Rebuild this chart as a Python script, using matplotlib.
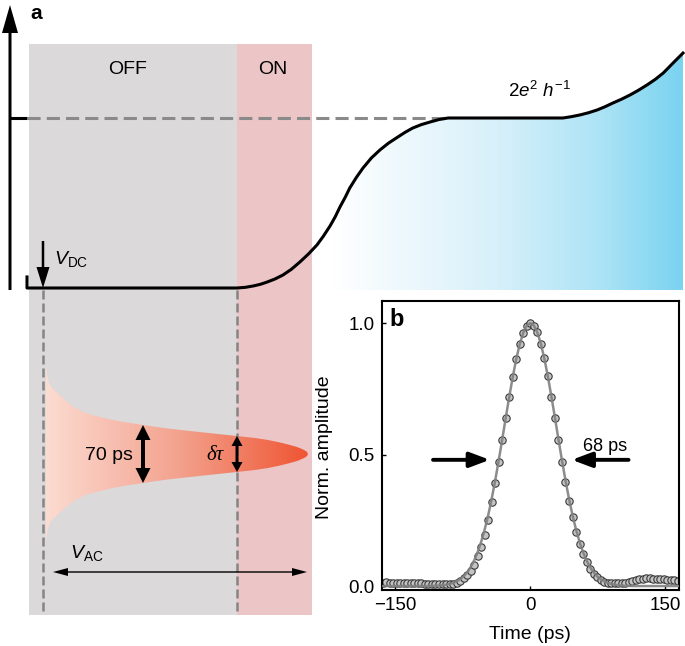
import numpy as np
import matplotlib
matplotlib.use("Agg")
import matplotlib.pyplot as plt
from matplotlib.patches import Rectangle, Polygon
from matplotlib.colors import LinearSegmentedColormap

plt.rcParams['font.family'] = ['Liberation Sans', 'DejaVu Sans']
plt.rcParams['mathtext.fontset'] = 'custom'
plt.rcParams['mathtext.rm'] = 'Liberation Sans'
plt.rcParams['mathtext.it'] = 'Liberation Sans:italic'
plt.rcParams['mathtext.bf'] = 'Liberation Sans:bold'

# ---------------- data ----------------
# panel a: schematic conductance curve (gate voltage a.u. 0..1, G in units of 2e^2/h)
gate_v = [0.0, 0.0, 0.320, 0.333, 0.345, 0.356, 0.366, 0.378, 0.390, 0.403, 0.416, 0.429,
          0.442, 0.452, 0.462, 0.470, 0.477, 0.485, 0.492, 0.502, 0.512, 0.525, 0.538,
          0.551, 0.564, 0.576, 0.588, 0.601, 0.614, 0.628, 0.642, 0.817, 0.830, 0.843,
          0.856, 0.869, 0.881, 0.893, 0.906, 0.919, 0.932, 0.945, 0.958, 0.970, 0.985, 1.0]
conductance = [0.065, 0.0, 0.0, 0.004, 0.012, 0.022, 0.035, 0.053, 0.076, 0.110, 0.153, 0.200,
               0.253, 0.306, 0.365, 0.420, 0.476, 0.533, 0.588, 0.650, 0.705, 0.765, 0.812,
               0.852, 0.885, 0.915, 0.941, 0.961, 0.976, 0.991, 1.0, 1.0, 1.008, 1.018,
               1.031, 1.047, 1.066, 1.088, 1.110, 1.135, 1.163, 1.194, 1.228, 1.265, 1.324, 1.382]
plateau_level = 1.0

# panel a: schematic pulse envelope (position px, half-width px)
pulse_pos = [46, 46.5, 47.5, 49, 51, 54, 57, 61, 65, 73, 85, 100, 115, 130, 143, 165, 190,
             215, 237, 255, 268, 280, 290, 297, 302, 305, 307, 308]
pulse_halfwidth = [90, 84, 77, 71, 67, 64, 61.5, 57.5, 54, 47.5, 41, 37, 33.5, 31, 29, 25.8,
                   23, 20.3, 18, 16, 14, 11.5, 9, 7, 5, 3.5, 2, 0]

# panel b: measured pulse (time in ps, normalized amplitude) and Gaussian fit
time_ps = [-163.8, -159.9, -156.0, -152.1, -148.2, -144.3, -140.4, -136.5, -132.6, -128.7,
           -124.8, -120.9, -117.0, -113.1, -109.2, -105.3, -101.4, -97.5, -93.6, -89.7,
           -85.8, -81.9, -78.0, -74.1, -70.2, -66.3, -62.4, -58.5, -54.6, -50.7,
           -46.8, -42.9, -39.0, -35.1, -31.2, -27.3, -23.4, -19.5, -15.6, -11.7,
           -7.8, -3.9, 0.0, 3.9, 7.8, 11.7, 15.6, 19.5, 23.4, 27.3,
           31.2, 35.1, 39.0, 42.9, 46.8, 50.7, 54.6, 58.5, 62.4, 66.3,
           70.2, 74.1, 78.0, 81.9, 85.8, 89.7, 93.6, 97.5, 101.4, 105.3,
           109.2, 113.1, 117.0, 120.9, 124.8, 128.7, 132.6, 136.5, 140.4, 144.3,
           148.2, 152.1, 156.0, 159.9, 163.8]
amp_measured = [0.013, 0.014, 0.013, 0.012, 0.013, 0.012, 0.012, 0.011, 0.012, 0.011,
                0.010, 0.010, 0.009, 0.009, 0.008, 0.008, 0.007, 0.007, 0.006, 0.007,
                0.008, 0.012, 0.020, 0.031, 0.041, 0.056, 0.081, 0.113, 0.148, 0.195,
                0.252, 0.318, 0.390, 0.470, 0.555, 0.640, 0.720, 0.795, 0.862, 0.920,
                0.962, 0.988, 1.000, 0.990, 0.965, 0.922, 0.866, 0.797, 0.720, 0.638,
                0.555, 0.473, 0.396, 0.325, 0.262, 0.207, 0.160, 0.121, 0.090, 0.066,
                0.047, 0.034, 0.024, 0.017, 0.013, 0.011, 0.010, 0.010, 0.011, 0.012,
                0.014, 0.018, 0.022, 0.026, 0.028, 0.029, 0.029, 0.028, 0.027, 0.026,
                0.025, 0.024, 0.023, 0.022, 0.021]
amp_fit = [0.0, 0.0, 0.0, 0.0, 0.0, 0.0, 0.0, 0.0, 0.0, 0.0,
           0.0, 0.0, 0.0, 0.0, 0.001, 0.001, 0.002, 0.003, 0.005, 0.008,
           0.012, 0.018, 0.026, 0.037, 0.052, 0.072, 0.097, 0.129, 0.168, 0.215,
           0.269, 0.332, 0.402, 0.478, 0.558, 0.640, 0.720, 0.796, 0.864, 0.921,
           0.964, 0.991, 1.000, 0.991, 0.964, 0.921, 0.864, 0.796, 0.720, 0.640,
           0.558, 0.478, 0.402, 0.332, 0.269, 0.215, 0.168, 0.129, 0.097, 0.072,
           0.052, 0.037, 0.026, 0.018, 0.012, 0.008, 0.005, 0.003, 0.002, 0.001,
           0.001, 0.0, 0.0, 0.0, 0.0, 0.0, 0.0, 0.0, 0.0, 0.0,
           0.0, 0.0, 0.0, 0.0, 0.0]
x_ticks = [-150, 0, 150]
y_ticks = [0.0, 0.5, 1.0]
y_ticklabels = ['0.0', '0.5', '1.0']

# ---------------- figure ----------------
W, H = 685, 646
fig = plt.figure(figsize=(W / 100, H / 100), dpi=100)
ax = fig.add_axes([0, 0, 1, 1], zorder=0)
ax.set_xlim(0, W)
ax.set_ylim(H, 0)
ax.axis('off')

off_col = '#dbd9da'
on_col = '#ecc5c6'
ax.add_patch(Rectangle((29, 44), 208, 571, facecolor=off_col, edgecolor='none', zorder=0))
ax.add_patch(Rectangle((237, 44), 75, 571, facecolor=on_col, edgecolor='none', zorder=0))

ax.text(128, 70, 'OFF', ha='center', va='center', fontsize=14)
ax.text(273, 70, 'ON', ha='center', va='center', fontsize=14)
ax.text(30, 19, 'a', ha='left', va='baseline', fontsize=15, fontweight='bold')

# vertical axis arrow and tick
ax.arrow(10, 290, 0, -285, width=3, head_width=16, head_length=28,
         length_includes_head=True, color='k', lw=0, zorder=3)
ax.plot([10, 27], [118, 118], color='k', lw=2.2, solid_capstyle='butt', zorder=3)

# vertical dashed guides
for xv in (43, 237):
    ax.plot([xv, xv], [290, 615], color='#858585', lw=1.8, dashes=(3.6, 1.6), zorder=2)

# V_DC arrow
ax.arrow(43, 241, 0, 47, width=2.5, head_width=13, head_length=21,
         length_includes_head=True, color='k', lw=0, zorder=3)
ax.text(54, 259, r'$V_{\rm DC}$', ha='left', va='center', fontsize=14)

# pulse envelope with gradient
pulse_center = 454
top = [pulse_center - h for h in pulse_halfwidth]
bot = [pulse_center + h for h in pulse_halfwidth]
verts = list(zip(pulse_pos, top)) + list(zip(pulse_pos[::-1], bot[::-1]))
ppoly = Polygon(verts, closed=True, facecolor='none', edgecolor='none', zorder=1)
ax.add_patch(ppoly)
red_cmap = LinearSegmentedColormap.from_list('red', ['#fcdbd1', '#f3a38f', '#ef5533'])
grad = np.linspace(0, 1, 256)[None, :]
im = ax.imshow(grad, extent=(46, 308, 546, 362), cmap=red_cmap, aspect='auto', zorder=1)
im.set_clip_path(ppoly)

# 70 ps and delta tau double arrows
for cx, half, wd, hw, hl in ((143, 29, 4, 15, 15), (237, 18, 3, 11, 10)):
    ax.arrow(cx, pulse_center, 0, -half, width=wd, head_width=hw, head_length=hl,
             length_includes_head=True, color='k', lw=0, zorder=3)
    ax.arrow(cx, pulse_center, 0, half, width=wd, head_width=hw, head_length=hl,
             length_includes_head=True, color='k', lw=0, zorder=3)
ax.text(133, 455, '70 ps', ha='right', va='center', fontsize=14)
ax.text(215, 455, 'δτ', ha='center', va='center', fontsize=15,
        family=['Liberation Serif', 'DejaVu Serif'], style='italic')

# V_AC double arrow
for sgn in (-1, 1):
    ax.arrow(180, 572, sgn * 127, 0, width=1.4, head_width=8, head_length=15,
             length_includes_head=True, color='k', lw=0, zorder=3)
ax.text(70, 553, r'$V_{\rm AC}$', ha='left', va='center', fontsize=14)

ax.text(539, 91, r'$2e^2\ h^{-1}$', ha='center', va='center', fontsize=13.5)

# conductance curve axes
gy0 = (288 - 290) / 170
gy1 = (288 - 20) / 170
ax_g = fig.add_axes([27 / W, (H - 290) / H, 656 / W, 270 / H], zorder=1)
ax_g.patch.set_alpha(0)
ax_g.axis('off')
cyan_cmap = LinearSegmentedColormap.from_list(
    'cyan', [(0, '#ffffff'), (0.47, '#d7f0fa'), (0.75, '#afe4f6'), (1.0, '#7ad3f0')])
fill_verts = [(v, g) for v, g in zip(gate_v[2:], conductance[2:])] + [(1.0, gy0), (gate_v[2], gy0)]
fpoly = Polygon(fill_verts, closed=True, facecolor='none', edgecolor='none')
ax_g.add_patch(fpoly)
im2 = ax_g.imshow(grad, extent=(0.465, 1.0, gy0, 1.4), cmap=cyan_cmap, aspect='auto', zorder=1)
im2.set_clip_path(fpoly)
ax_g.plot([0, 0.642], [plateau_level, plateau_level], color='#8a8a8a', lw=2.2,
          dashes=(4.3, 2.0), zorder=2, clip_on=False)
ax_g.plot(gate_v, conductance, color='k', lw=2.2, zorder=3, clip_on=False,
          solid_joinstyle='round')
ax_g.set_xlim(0, 1)
ax_g.set_ylim(gy0, gy1)

# ---------------- panel b ----------------
ax_b = fig.add_axes([381.7 / W, 56 / H, 297.3 / W, 289 / H], zorder=2)
ax_b.plot(time_ps, amp_measured, 'o', ms=5.3, mfc='#c4c4c4', mec='#3a3a3a', mew=0.8, zorder=2)
ax_b.plot(time_ps, amp_fit, color='#808080', lw=1.8, alpha=0.9, zorder=3)
ax_b.set_xlim(-165, 165)
ax_b.set_ylim(-0.015, 1.084)
ax_b.set_xticks(x_ticks)
ax_b.set_yticks(y_ticks)
ax_b.set_yticklabels(y_ticklabels)
ax_b.tick_params(direction='in', length=3, width=1, labelsize=13.5, pad=5)
for sp in ax_b.spines.values():
    sp.set_linewidth(1.5)
ax_b.set_xlabel('Time (ps)', fontsize=14)
ax_b.set_ylabel('Norm. amplitude', fontsize=14)
ax_b.xaxis.set_label_coords(0.5, -0.125)
ax_b.yaxis.set_label_coords(-0.165, 0.493)
ax_b.text(0.027, 0.935, 'b', transform=ax_b.transAxes, ha='left', va='center',
          fontsize=17, fontweight='bold')
ax_b.annotate('', xy=(-45, 0.48), xytext=(-108, 0.48),
              arrowprops=dict(arrowstyle='-|>,head_length=1.2,head_width=0.45',
                              lw=2.8, color='k', shrinkA=0, shrinkB=0, mutation_scale=10))
ax_b.annotate('', xy=(46, 0.48), xytext=(109, 0.48),
              arrowprops=dict(arrowstyle='-|>,head_length=1.2,head_width=0.45',
                              lw=2.8, color='k', shrinkA=0, shrinkB=0, mutation_scale=10))
ax_b.text(83, 0.53, '68 ps', ha='center', va='center', fontsize=13)

fig.savefig('out.png', dpi=100)
